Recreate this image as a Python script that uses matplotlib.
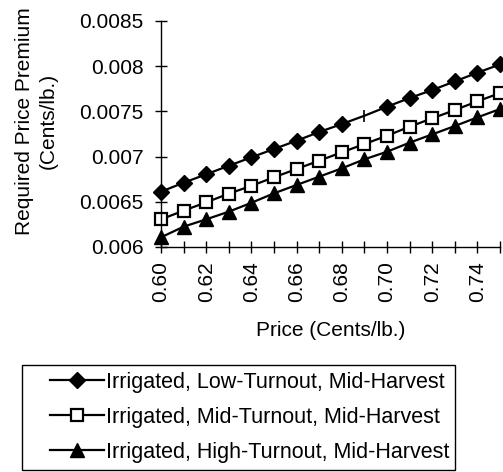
import matplotlib
matplotlib.use("Agg")
import matplotlib.pyplot as plt
from matplotlib.patches import Rectangle

price = [0.60, 0.61, 0.62, 0.63, 0.64, 0.65, 0.66, 0.67, 0.68, 0.69, 0.70, 0.71, 0.72, 0.73, 0.74, 0.75]
low_turnout = [0.006612, 0.006711, 0.006804, 0.006899, 0.006992, 0.007084, 0.007176, 0.007272,
               0.007360, 0.007452, 0.007552, 0.007648, 0.007736, 0.007832, 0.007928, 0.008020]
mid_turnout = [0.006306, 0.006402, 0.006494, 0.006590, 0.006677, 0.006771, 0.006863, 0.006955,
               0.007047, 0.007139, 0.007231, 0.007331, 0.007423, 0.007515, 0.007611, 0.007703]
high_turnout = [0.006107, 0.006225, 0.006306, 0.006391, 0.006489, 0.006594, 0.006686, 0.006778,
                0.006870, 0.006970, 0.007054, 0.007154, 0.007246, 0.007338, 0.007434, 0.007526]
labels = ["Irrigated, Low-Turnout, Mid-Harvest",
          "Irrigated, Mid-Turnout, Mid-Harvest",
          "Irrigated, High-Turnout, Mid-Harvest"]
ytick_labels = ["0.006", "0.0065", "0.007", "0.0075", "0.008", "0.0085"]

plt.rcParams['font.family'] = ['Liberation Sans', 'DejaVu Sans']

W, H = 503, 472
fig = plt.figure(figsize=(W / 100, H / 100), dpi=100)
ax = fig.add_axes([161 / W, 225 / H, 339 / W, 226 / H])

lw = 1.6
h1, = ax.plot(price, low_turnout, color='black', lw=lw, marker='D', markersize=8,
              markerfacecolor='black', markeredgecolor='black', clip_on=False,
              markevery=[i for i in range(len(price)) if i != 9])
ax.plot([price[9]], [low_turnout[9]], marker='|', color='black', markersize=9, mew=1.2, clip_on=False)
h2, = ax.plot(price, mid_turnout, color='black', lw=lw, marker='s', markersize=9,
              markerfacecolor='white', markeredgecolor='black', markeredgewidth=1.6, clip_on=False)
h3, = ax.plot(price, high_turnout, color='black', lw=lw, marker='^', markersize=10,
              markerfacecolor='black', markeredgecolor='black', clip_on=False)

ax.set_xlim(0.60, 0.75)
ax.set_ylim(0.006, 0.0085)
xt = [round(0.60 + 0.01 * i, 2) for i in range(16)]
ax.set_xticks(xt)
ax.set_xticklabels(["%.2f" % v if i % 2 == 0 else "" for i, v in enumerate(xt)])
ax.set_yticks([float(v) for v in ytick_labels])
ax.set_yticklabels(ytick_labels)

for s in ['top', 'right']:
    ax.spines[s].set_visible(False)
for s in ['left', 'bottom']:
    ax.spines[s].set_linewidth(1.0)

fs = 15
ax.tick_params(axis='both', direction='inout', length=8, width=1.0, labelsize=fs)
ax.tick_params(axis='x', labelrotation=90, pad=6)
ax.tick_params(axis='y', pad=8.5)

ax.set_xlabel("Price (Cents/lb.)", fontsize=fs, labelpad=14)
ax.set_ylabel("Required Price Premium\n(Cents/lb.)", fontsize=15, linespacing=1.35)
ax.yaxis.set_label_coords((58 - 161) / 339, (351 - 225) / 226)

# legend frame
fig.patches.append(Rectangle((22 / W, 2 / H), 433 / W, 105 / H, transform=fig.transFigure,
                             fill=False, edgecolor='black', linewidth=1.0))
leg = fig.legend([h1, h2, h3], labels, loc='upper left', bbox_to_anchor=(50 / W, (H - 372) / H),
                 frameon=False, fontsize=15.5,
                 handlelength=2.5, handletextpad=0.08, borderpad=0, labelspacing=0.65,
                 borderaxespad=0)

fig.savefig("out.png", dpi=100)
